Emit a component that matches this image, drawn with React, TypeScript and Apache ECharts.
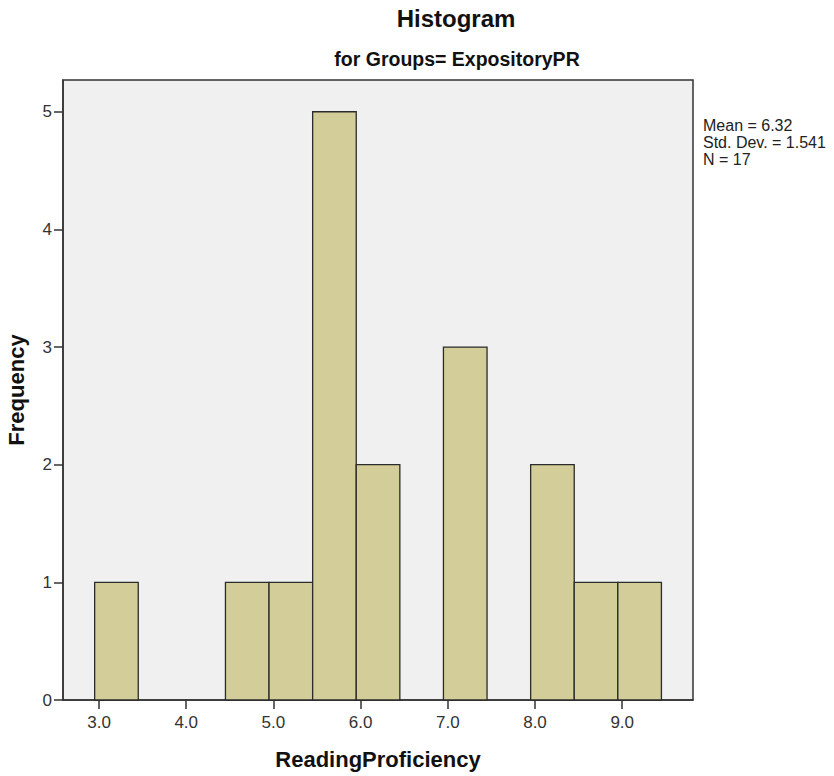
import React, { useEffect, useRef } from "react";
import * as echarts from "echarts";

// Histogram bins (lower edges), frequencies
const binStarts = [2.95, 4.45, 4.95, 5.45, 5.95, 6.95, 7.95, 8.45, 8.95];
const frequencies = [1, 1, 1, 5, 2, 3, 2, 1, 1];
const binWidth = 0.5;
const xTicks = [3, 4, 5, 6, 7, 8, 9];
const yTicks = [0, 1, 2, 3, 4, 5];
const statsLines = ["Mean = 6.32", "Std. Dev. = 1.541", "N = 17"];

const FONT = "'Liberation Sans', Arial, sans-serif";

export default function App() {
  const ref = useRef<HTMLDivElement>(null);
  useEffect(() => {
    if (!ref.current) return;
    const chart = echarts.init(ref.current, null, { renderer: "svg" });
    const data = binStarts.map((s, i) => [s, s + binWidth, frequencies[i]]);
    chart.setOption({
      animation: false,
      backgroundColor: "#ffffff",
      grid: {
        left: 63,
        right: 141,
        top: 80,
        bottom: 76,
        containLabel: false,
        outerBoundsMode: "none",
        show: true,
        backgroundColor: "#f0f0f0",
        borderColor: "#333",
        borderWidth: 1.5,
      },
      xAxis: {
        type: "value",
        min: 2.587,
        max: 9.812,
        name: "ReadingProficiency",
        nameLocation: "middle",
        nameGap: 48,
        nameTextStyle: { fontFamily: FONT, fontWeight: "bold", fontSize: 22, color: "#111" },
        axisLine: { show: true, lineStyle: { color: "#333", width: 1.5 } },
        axisTick: { show: true, length: 9, customValues: xTicks, lineStyle: { color: "#333", width: 1.5 } },
        axisLabel: {
          customValues: xTicks,
          formatter: (v: number) => Number(v).toFixed(1),
          fontFamily: FONT,
          fontSize: 17,
          color: "#333",
          margin: 14,
        },
        splitLine: { show: false },
      },
      yAxis: {
        type: "value",
        min: 0,
        max: 5.27,
        name: "Frequency",
        nameLocation: "middle",
        nameGap: 36,
        nameTextStyle: { fontFamily: FONT, fontWeight: "bold", fontSize: 22, color: "#111" },
        axisLine: { show: true, lineStyle: { color: "#333", width: 1.5 } },
        axisTick: { show: true, length: 9, customValues: yTicks, lineStyle: { color: "#333", width: 1.5 } },
        axisLabel: {
          customValues: yTicks,
          formatter: (v: number) => String(Math.round(v)),
          fontFamily: FONT,
          fontSize: 17,
          color: "#333",
          margin: 11,
        },
        splitLine: { show: false },
      },
      series: [
        {
          type: "custom",
          data,
          encode: { x: [0, 1], y: 2 },
          renderItem: (params: any, api: any) => {
            const a = api.coord([api.value(0), api.value(2)]);
            const b = api.coord([api.value(1), 0]);
            return {
              type: "rect",
              shape: { x: a[0], y: a[1], width: b[0] - a[0], height: b[1] - a[1] },
              style: { fill: "#d3ce99", stroke: "#2b2b2b", lineWidth: 1.3 },
            };
          },
        },
      ],
      graphic: [
        {
          type: "text",
          x: 456,
          y: 18,
          style: {
            text: "Histogram",
            fontFamily: FONT,
            fontWeight: "bold",
            fontSize: 24,
            fill: "#111",
            align: "center",
            verticalAlign: "middle",
          },
        },
        {
          type: "text",
          x: 457,
          y: 59,
          style: {
            text: "for Groups= ExpositoryPR",
            fontFamily: FONT,
            fontWeight: "bold",
            fontSize: 19.5,
            fill: "#111",
            align: "center",
            verticalAlign: "middle",
          },
        },
        {
          type: "text",
          x: 703,
          y: 117,
          style: {
            text: statsLines.join("\n"),
            fontFamily: FONT,
            fontSize: 16,
            lineHeight: 17,
            fill: "#222",
            align: "left",
            verticalAlign: "top",
          },
        },
      ],
    });
    return () => chart.dispose();
  }, []);
  return (
    <div
      ref={ref}
      style={{ position: "absolute", left: 0, top: 0, width: 834, height: 776 }}
    />
  );
}
